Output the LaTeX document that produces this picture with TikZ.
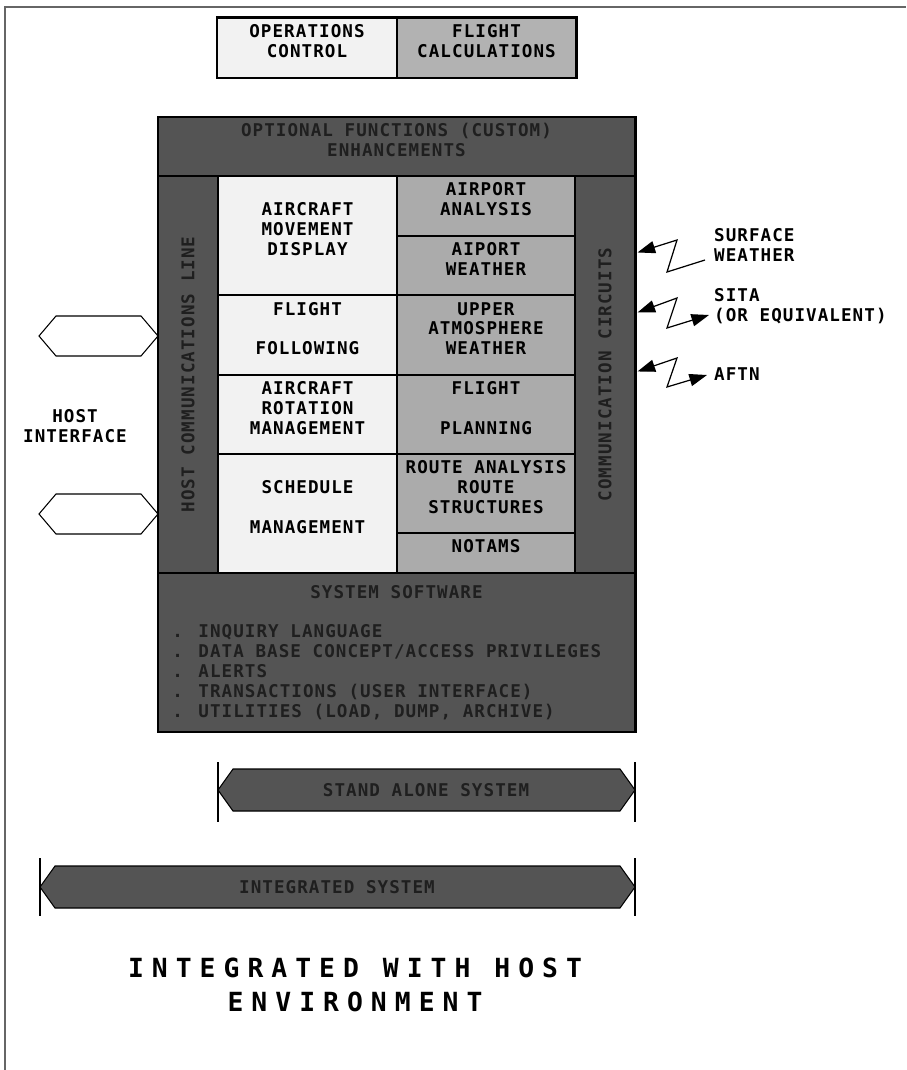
\documentclass[tikz,border=0pt]{standalone}
\usepackage{fontspec}
\usetikzlibrary{fit,calc,arrows.meta}
\newfontfamily\plotfont[LetterSpace=6.0]{DejaVu Sans Mono}
\newfontfamily\titlefam[LetterSpace=30.5]{DejaVu Sans Mono}
\newcommand{\cellfont}{\plotfont\bfseries\fontsize{10}{11.3}\selectfont}
\newcommand{\labelfont}{\plotfont\bfseries\fontsize{10}{11.3}\selectfont}
\newcommand{\titlefont}{\titlefam\bfseries\fontsize{15}{19.8}\selectfont}
\colorlet{bandgray}{black!67}
\colorlet{bandtext}{black!88}
\colorlet{cellwhite}{black!5}
\colorlet{cellgray}{black!33}
\tikzset{
  cell/.style={draw, line width=0.6pt, inner sep=0pt, align=center, font=\cellfont},
  whitecell/.style={cell, fill=cellwhite},
  graycell/.style={cell, fill=cellgray},
  band/.style={cell, fill=bandgray, text=bandtext},
  hostport/.style={draw, line width=0.6pt, fill=white},
  sysbar/.style={draw, line width=0.6pt, fill=bandgray},
  barend/.style={line width=0.6pt},
  zig/.style={line width=0.7pt, -{Triangle[length=10pt,width=7pt]}},
  zigboth/.style={line width=0.7pt, {Triangle[length=10pt,width=7pt]}-{Triangle[length=10pt,width=7pt]}}
}
\begin{document}
\begin{tikzpicture}[x=0.02cm, y=-0.02cm]
  \useasboundingbox (0,0) rectangle (906,1070);
  \draw[black!60, line width=1.1pt] (5,1070) -- (5,7) -- (906,7);

  \node[whitecell, fit={(217,18) (397,78)}] (opsctl) {OPERATIONS\\CONTROL};
  \node[cell, fill=black!30, fit={(397,18) (576,78)}] (fltcalc) {FLIGHT\\CALCULATIONS};
  \draw[line width=1.1pt] (opsctl.north west) rectangle (fltcalc.south east);

  \node[band, fit={(158,117) (635,176)}] (optfn) {OPTIONAL FUNCTIONS (CUSTOM)\\ENHANCEMENTS};
  \node[band, fit={(158,176) (218,573)}] (hostline) {};
  \node[band, fit={(575,176) (635,573)}] (commcirc) {};
  \node[cell, rotate=90, draw=none, text=bandtext] at (hostline.center) {HOST COMMUNICATIONS LINE};
  \node[cell, rotate=90, draw=none, text=bandtext] at (commcirc.center) {COMMUNICATION CIRCUITS};

  \node[whitecell, align=left, fit={(218,176) (397,295)}] (acmove) {AIRCRAFT\\MOVEMENT\\DISPLAY};
  \node[whitecell, fit={(218,295) (397,375)}] (fltfollow) {FLIGHT\\[11.3pt]FOLLOWING};
  \node[whitecell, fit={(218,375) (397,454)}] (acrot) {AIRCRAFT\\ROTATION\\MANAGEMENT};
  \node[whitecell, fit={(218,454) (397,573)}] (sched) {SCHEDULE\\[11.3pt]MANAGEMENT};

  \node[graycell, fit={(397,176) (575,236)}] (aptana) {AIRPORT\\ANALYSIS};
  \node[graycell, fit={(397,236) (575,295)}] (aptwx) {AIPORT\\WEATHER};
  \node[graycell, fit={(397,295) (575,375)}] (upperwx) {UPPER\\ATMOSPHERE\\WEATHER};
  \node[graycell, fit={(397,375) (575,454)}] (fltplan) {FLIGHT\\[11.3pt]PLANNING};
  \node[graycell, fit={(397,454) (575,533)}] (route) {ROUTE ANALYSIS\\ROUTE\\STRUCTURES};
  \node[graycell, fit={(397,533) (575,573)}] (notams) {NOTAMS};

  \node[band, fit={(158,573) (635,732)}] (syssw) {};
  \node[font=\cellfont, text=bandtext] (sysswtitle) at ($(syssw.north)+(0,20)$) {SYSTEM SOFTWARE};
  \node[font=\cellfont, text=bandtext, align=left, anchor=west, inner sep=0pt] (sysswlist) at (172,672)
    {. INQUIRY LANGUAGE\\. DATA BASE CONCEPT/ACCESS PRIVILEGES\\. ALERTS\\. TRANSACTIONS (USER INTERFACE)\\. UTILITIES (LOAD, DUMP, ARCHIVE)};
  \draw[line width=1.1pt] (optfn.north west) rectangle (syssw.south east);

  \draw[hostport] (39,336) -- (56,316) -- (141,316) -- (158,336) -- (141,356) -- (56,356) -- cycle;
  \draw[hostport] (39,514) -- (56,494) -- (141,494) -- (158,514) -- (141,534) -- (56,534) -- cycle;
  \node[font=\labelfont, align=center] (hostif) at (75,426) {HOST\\INTERFACE};

  \coordinate (surfend) at (705,260);
  \coordinate (sitaend) at (709,315);
  \coordinate (aftnend) at (707,375);
  \draw[zig] (surfend) -- (667,272) -- (677,240) -- ($(commcirc.north east)+(2,77)$);
  \draw[zigboth] ($(commcirc.north east)+(2,137)$) -- (677,298) -- (667,328) -- (sitaend);
  \draw[zigboth] ($(commcirc.north east)+(2,196)$) -- (677,358) -- (667,387) -- (aftnend);
  \node[font=\labelfont, align=left, anchor=west] (surflbl) at (708,245) {SURFACE\\WEATHER};
  \node[font=\labelfont, align=left, anchor=west] (sitalbl) at (708,306) {SITA\\(OR EQUIVALENT)};
  \node[font=\labelfont, align=left, anchor=west] (aftnlbl) at (708,374) {AFTN};

  \draw[sysbar] (218,790) -- (233,769) -- (620,769) -- (635,790) -- (620,811) -- (233,811) -- cycle;
  \draw[barend] (218,762) -- (218,822) (635,762) -- (635,822);
  \node[font=\cellfont, text=bandtext] (standalone) at (426,790) {STAND ALONE SYSTEM};
  \draw[sysbar] (40,887) -- (55,866) -- (620,866) -- (635,887) -- (620,908) -- (55,908) -- cycle;
  \draw[barend] (40,858) -- (40,916) (635,858) -- (635,916);
  \node[font=\cellfont, text=bandtext] (integrated) at (337,887) {INTEGRATED SYSTEM};

  \node[font=\titlefont, align=center] (title) at (355,985) {INTEGRATED WITH HOST\\ENVIRONMENT};
\end{tikzpicture}
\end{document}
